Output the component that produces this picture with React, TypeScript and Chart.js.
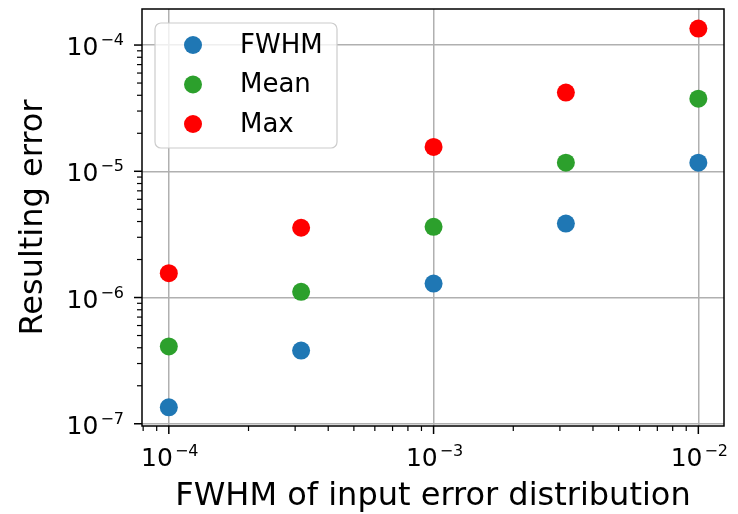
import React, { useEffect, useRef } from 'react';
import { Chart, registerables } from 'chart.js';

Chart.register(...registerables);

// ---- data ----
const xValues = [1e-4, 3.16e-4, 1e-3, 3.16e-3, 1e-2];
const fwhmValues = [1.35e-7, 3.8e-7, 1.29e-6, 3.85e-6, 1.17e-5];
const meanValues = [4.1e-7, 1.11e-6, 3.63e-6, 1.17e-5, 3.76e-5];
const maxValues = [1.56e-6, 3.57e-6, 1.56e-5, 4.2e-5, 1.35e-4];
const seriesLabels = ['FWHM', 'Mean', 'Max'];
const seriesColors = ['#1f77b4', '#2ca02c', '#ff0000'];

// tick labels: base "10" with exponent
const xMajorTicks = [1e-4, 1e-3, 1e-2];
const xMajorExponents = ['−4', '−3', '−2'];
const yMajorTicks = [1e-7, 1e-6, 1e-5, 1e-4];
const yMajorExponents = ['−7', '−6', '−5', '−4'];
const tickBase = '10';
const xDecades = [1e-5, 1e-4, 1e-3, 1e-2];
const yDecades = [1e-8, 1e-7, 1e-6, 1e-5, 1e-4];

const xTitle = 'FWHM of input error distribution';
const yTitle = 'Resulting error';

const X_MIN = 7.92e-5;
const X_MAX = 1.25e-2;
const Y_MIN = 9.6e-8;
const Y_MAX = 1.93e-4;

const FONT = 'DejaVu Sans';

type T = { value: number; major: boolean; exp?: string };

function buildTicks(majors: number[], exps: string[], decades: number[], min: number, max: number): T[] {
  const out: T[] = [];
  majors.forEach((v, i) => {
    if (v >= min && v <= max) out.push({ value: v, major: true, exp: exps[i] });
  });
  decades.forEach((d) => {
    for (let m = 2; m <= 9; m++) {
      const v = m * d;
      if (v >= min && v <= max) out.push({ value: v, major: false });
    }
  });
  out.sort((a, b) => a.value - b.value);
  return out;
}

const xTicks = buildTicks(xMajorTicks, xMajorExponents, xDecades, X_MIN, X_MAX);
const yTicks = buildTicks(yMajorTicks, yMajorExponents, yDecades, Y_MIN, Y_MAX);

const BASE_FONT = `25px "${FONT}"`;
const SUP_FONT = `16px "${FONT}"`;
const SUP_RAISE = 10;
const SUP_GAP = 2;

function drawPowerLabel(ctx: any, exp: string, x: number, baseline: number, align: 'center' | 'right') {
  ctx.font = BASE_FONT;
  const w1 = ctx.measureText(tickBase).width;
  ctx.font = SUP_FONT;
  const w2 = ctx.measureText(exp).width;
  const total = w1 + SUP_GAP + w2;
  const startX = align === 'center' ? x - total / 2 : x - total;
  ctx.textAlign = 'left';
  ctx.textBaseline = 'alphabetic';
  ctx.font = BASE_FONT;
  ctx.fillText(tickBase, startX, baseline);
  ctx.font = SUP_FONT;
  ctx.fillText(exp, startX + w1 + SUP_GAP, baseline - SUP_RAISE);
}

const framePlugin = {
  id: 'frame',
  afterDatasetsDraw(chart: any) {
    const { ctx, chartArea } = chart;
    const { left, right, top, bottom } = chartArea;
    const xs = chart.scales.x;
    const ys = chart.scales.y;
    ctx.save();
    ctx.strokeStyle = '#000';
    ctx.fillStyle = '#000';
    xTicks.forEach((t) => {
      const px = xs.getPixelForValue(t.value);
      const len = t.major ? 8 : 5;
      ctx.lineWidth = t.major ? 1.5 : 1.2;
      ctx.beginPath();
      ctx.moveTo(px, bottom);
      ctx.lineTo(px, bottom + len);
      ctx.stroke();
      if (t.major && t.exp) drawPowerLabel(ctx, t.exp, px + 1, bottom + 40, 'center');
    });
    yTicks.forEach((t) => {
      const py = ys.getPixelForValue(t.value);
      const len = t.major ? 8 : 5;
      ctx.lineWidth = t.major ? 1.5 : 1.2;
      ctx.beginPath();
      ctx.moveTo(left, py);
      ctx.lineTo(left - len, py);
      ctx.stroke();
      if (t.major && t.exp) drawPowerLabel(ctx, t.exp, left - 18, py + 10, 'right');
    });
    ctx.lineWidth = 1.5;
    ctx.strokeRect(left, top, right - left, bottom - top);
    ctx.restore();
  },
};

const legendPlugin = {
  id: 'customLegend',
  afterDraw(chart: any) {
    const { ctx, chartArea } = chart;
    const bx = chartArea.left + 13;
    const by = chartArea.top + 14;
    const bw = 182;
    const bh = 125;
    ctx.save();
    ctx.beginPath();
    ctx.roundRect(bx, by, bw, bh, 6);
    ctx.fillStyle = 'rgba(255,255,255,0.8)';
    ctx.fill();
    ctx.strokeStyle = '#cccccc';
    ctx.lineWidth = 1.2;
    ctx.stroke();
    chart.data.datasets.forEach((ds: any, i: number) => {
      const cy = by + 22 + i * 39.5;
      ctx.beginPath();
      ctx.arc(bx + 38, cy, 9, 0, Math.PI * 2);
      ctx.fillStyle = ds.backgroundColor;
      ctx.fill();
      ctx.fillStyle = '#000';
      ctx.font = `26px "${FONT}"`;
      ctx.textBaseline = 'middle';
      ctx.textAlign = 'left';
      ctx.fillText(ds.label, bx + 85, cy + 1);
    });
    ctx.restore();
  },
};

export default function App() {
  const ref = useRef<HTMLCanvasElement | null>(null);
  useEffect(() => {
    if (!ref.current) return;
    const seriesData = [fwhmValues, meanValues, maxValues];
    const gridColor = (c: any) => (c.tick && c.tick.major ? '#b0b0b0' : 'rgba(0,0,0,0)');
    const chart = new Chart(ref.current, {
      type: 'scatter',
      data: {
        datasets: seriesData.map((vals, s) => ({
          label: seriesLabels[s],
          data: xValues.map((x, i) => ({ x, y: vals[i] })),
          backgroundColor: seriesColors[s],
          borderWidth: 0,
          pointRadius: 9,
          pointHoverRadius: 9,
        })),
      },
      options: {
        responsive: false,
        animation: false,
        events: [],
        layout: { padding: { top: 9, right: 14, left: 0, bottom: 0 } },
        plugins: { legend: { display: false }, tooltip: { enabled: false } },
        scales: {
          x: {
            type: 'logarithmic',
            min: X_MIN,
            max: X_MAX,
            afterBuildTicks: (s: any) => {
              s.ticks = xTicks.map((t) => ({ value: t.value, major: t.major }));
            },
            afterFit: (s: any) => {
              s.height = 88;
            },
            border: { display: false },
            grid: { drawTicks: false, lineWidth: 1.5, color: gridColor },
            ticks: { display: false, autoSkip: false },
            title: {
              display: true,
              text: xTitle,
              color: '#000',
              font: { family: FONT, size: 32, lineHeight: 1 },
              padding: { top: 0, bottom: 1 },
            },
          },
          y: {
            type: 'logarithmic',
            min: Y_MIN,
            max: Y_MAX,
            afterBuildTicks: (s: any) => {
              s.ticks = yTicks.map((t) => ({ value: t.value, major: t.major }));
            },
            afterFit: (s: any) => {
              s.width = 142;
            },
            border: { display: false },
            grid: { drawTicks: false, lineWidth: 1.5, color: gridColor },
            ticks: { display: false, autoSkip: false },
            title: {
              display: true,
              text: yTitle,
              color: '#000',
              font: { family: FONT, size: 32, lineHeight: 1 },
              padding: { top: 18, bottom: 0 },
            },
          },
        },
      },
      plugins: [framePlugin, legendPlugin],
    });
    return () => chart.destroy();
  }, []);
  return (
    <div style={{ position: 'fixed', left: 0, top: 0, width: 738, height: 514, background: '#fff' }}>
      <canvas ref={ref} width={738} height={514} />
    </div>
  );
}
